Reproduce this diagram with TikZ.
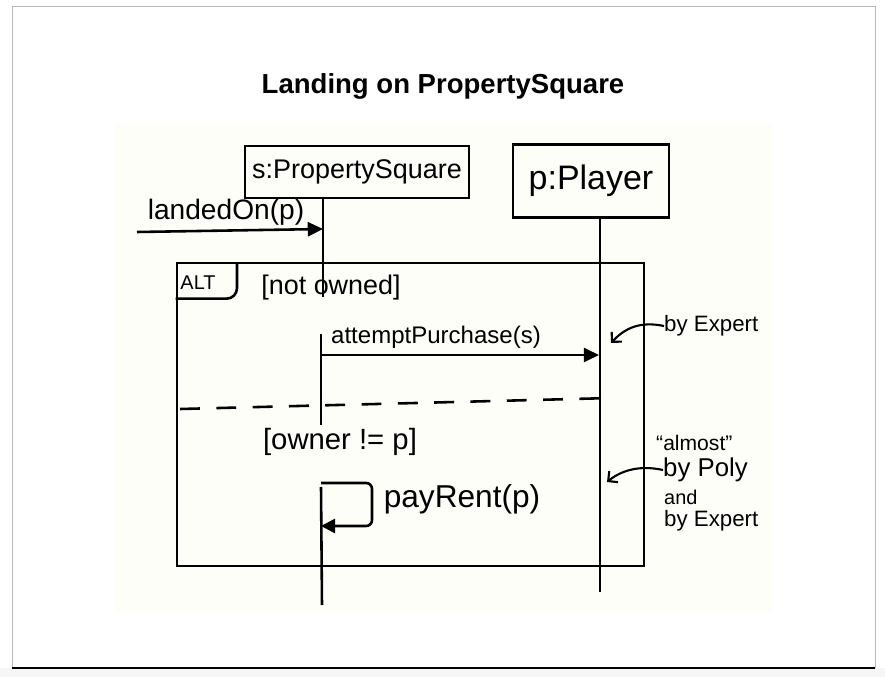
\documentclass[tikz,border=0pt]{standalone}
\usepackage{fontspec}
\setmainfont{Liberation Sans}
\usetikzlibrary{arrows.meta}
\definecolor{phototint}{RGB}{254,254,249}
\begin{document}
\begin{tikzpicture}[x=0.03cm,y=-0.03cm,
  hand/.style={line width=2.2pt, black},
  obj/.style={draw, line width=2.2pt, inner sep=0pt},
  lbl/.style={inner sep=0pt, font=\fontsize{19}{22}\selectfont},
  note/.style={inner sep=0pt, anchor=west, font=\fontsize{19}{22}\selectfont},
  msg/.style={hand, -{Triangle[length=13pt,width=12pt]}},
  notearrow/.style={line width=1.8pt, -{Straight Barb[length=6pt,width=12pt]}}
]
\useasboundingbox (0,0) rectangle (885,677);
% slide frame
\fill[white] (0,0) rectangle (885,677);
\fill[gray!7] (0,668) rectangle (885,677);
\fill[white] (12,6) rectangle (875,668);
\draw[gray!55, line width=0.6pt] (12,668) -- (12,6) -- (875,6) -- (875,668);
\draw[black, line width=0.9pt] (12,668) -- (875,668);
% photo area tint
\fill[phototint] (115,125) rectangle (772,612);

% title
\node[font=\bfseries\fontsize{23.5}{27}\selectfont] (title) at (443,86) {Landing on PropertySquare};

% participants
\node[obj, minimum width=6.72cm, minimum height=1.56cm, font=\fontsize{23}{26}\selectfont] (s) at (357,172) {s:PropertySquare};
\node[obj, minimum width=4.68cm, minimum height=2.2cm, font=\fontsize{29}{32}\selectfont] (p) at (591,181) {p:Player};

% lifelines (interrupted behind the guards, as drawn)
\coordinate (sbot) at (322,605);
\coordinate (pbot) at (600,592);
\coordinate (sg1a) at (323,297);
\coordinate (sg1b) at (321,334);
\coordinate (sg2a) at (321,425);
\coordinate (sg2b) at (321,487);
\draw[hand] (s.south -| sg1a) -- (sg1a);
\draw[hand] (sg1b) -- (sg2a);
\draw[hand] (sg2b) -- (sbot);
\draw[hand] (p.south -| pbot) -- (pbot);

% found message
\coordinate (lstart) at (137,232);
\coordinate (lend) at (323,229);
\draw[msg] (lstart) -- (lend);
\node[lbl, font=\fontsize{24}{27}\selectfont] (landed) at (226,212) {landedOn(p)};

% ALT frame
\node[draw, line width=2.2pt, minimum width=14.01cm, minimum height=9.09cm, inner sep=0pt] (alt) at (410.5,414.5) {};
\draw[hand, rounded corners=9pt] (alt.north west) ++(0,37) -| (237,263);
\node[inner sep=0pt, font=\fontsize{17}{19}\selectfont] (altlbl) at (198,283) {ALT};
\node[lbl, font=\fontsize{23}{26}\selectfont] (g1) at (331,288) {[not owned]};

% attemptPurchase
\coordinate (a1) at (321,355);
\coordinate (a2) at (599,355);
\draw[msg] (a1) -- (a2);
\node[lbl, font=\fontsize{20.5}{23}\selectfont] (ap) at (436,337) {attemptPurchase(s)};

% operand separator
\coordinate (d1) at (180,409);
\coordinate (d2) at (612,398);
\draw[hand, dash pattern=on 17pt off 14pt] (d1) -- (d2);

\node[lbl, font=\fontsize{25}{28}\selectfont] (g2) at (340,442) {[owner != p]};

% self message
\coordinate (r1) at (321,483);
\coordinate (r2) at (321,526);
\draw[hand, rounded corners=5pt, -{Triangle[length=12pt,width=12pt]}] (r1) -- (372,483) -- (372,526) -- (r2);
\node[lbl, font=\fontsize{27}{30}\selectfont] (pr) at (462,499) {payRent(p)};

% notes
\node[note] (n1) at (664,326) {by Expert};
\coordinate (n1t) at (611,343);
\draw[notearrow] (n1.west) .. controls (640,321) and (625,328) .. (n1t);

\node[note, font=\fontsize{18}{20}\selectfont] (n2a) at (656,443) {“almost”};
\node[note, font=\fontsize{22}{24}\selectfont] (n2b) at (663,470) {by Poly};
\node[note, font=\fontsize{17}{19}\selectfont] (n2c) at (664,497) {and};
\node[note] (n2d) at (664,521) {by Expert};
\coordinate (n2t) at (607,482);
\draw[notearrow] (n2b.west) .. controls (640,465) and (622,470) .. (n2t);
\end{tikzpicture}
\end{document}
